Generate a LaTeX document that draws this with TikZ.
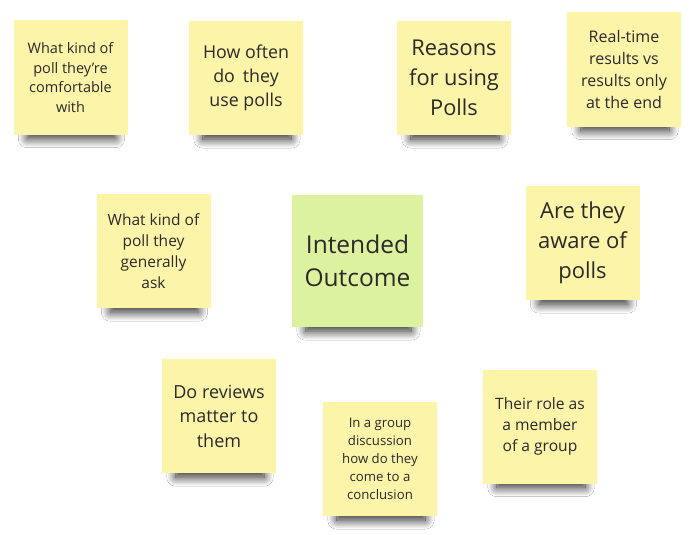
\documentclass[tikz,border=0pt]{standalone}
\usepackage{fontspec}
\setmainfont{Open Sans}
\usetikzlibrary{shadows.blur}
\pgfdeclarelayer{background}
\pgfsetlayers{background,main}
\definecolor{stickyyellow}{HTML}{FCF4A9}
\definecolor{stickygreen}{HTML}{DCF29E}
\definecolor{inkgray}{HTML}{2A2A2A}
\tikzset{
  sticky/.style={fill=stickyyellow, draw=none, inner sep=0pt,
    minimum width=114pt, minimum height=114pt, align=center,
    text=inkgray},
  goal/.style={sticky, fill=stickygreen, minimum width=131pt, minimum height=132pt},
  curlshadow/.style={blur shadow={shadow xshift=0pt, shadow yshift=0pt,
    shadow blur radius=9pt, shadow blur steps=18, shadow opacity=85}},
}
\begin{document}
\begin{tikzpicture}[x=1pt, y=-1pt]
  \useasboundingbox (0,0) rectangle (694,535);

  % top row
  \node[sticky, font=\fontsize{14.5}{19.7}\selectfont] (comfort) at (70.5,77.5)
    {What kind of\\poll they're\\comfortable\\with};
  \node[sticky, font=\fontsize{17.8}{24.2}\selectfont] (often) at (246,78)
    {How often\\do\hspace{0.45em}they\\use polls};
  \node[sticky, font=\fontsize{21.8}{29.7}\selectfont] (reasons) at (454,78)
    {Reasons\\for using\\Polls};
  \node[sticky, font=\fontsize{16}{22}\selectfont] (realtime) at (624,69.5)
    {Real-time\\results vs\\results only\\at the end};

  % middle row
  \node[sticky, font=\fontsize{15.5}{21}\selectfont] (generally) at (153.5,251)
    {What kind of\\poll they\\generally\\ask};
  \node[goal, font=\fontsize{24.5}{33.3}\selectfont] (outcome) at (357.5,261)
    {Intended\\Outcome};
  \node[sticky, font=\fontsize{22}{30}\selectfont] (aware) at (582.5,243)
    {Are they\\aware of\\polls};

  % bottom row
  \node[sticky, font=\fontsize{18}{24.5}\selectfont] (reviews) at (219,416)
    {Do reviews\\matter to\\them};
  \node[sticky, font=\fontsize{13.2}{17.9}\selectfont] (discussion) at (380,459)
    {In a group\\discussion\\how do they\\come to a\\conclusion};
  \node[sticky, font=\fontsize{15.6}{21.2}\selectfont] (role) at (540,426.5)
    {Their role as\\a member\\of a group};

  % white board, then curled-edge shadows under every note
  \begin{pgfonlayer}{background}
    \fill[white] (0,0) rectangle (694,535);
    \foreach \n in {comfort,often,reasons,realtime,generally,outcome,aware,reviews,discussion,role}
      \path[curlshadow] ([xshift=14pt,yshift=14pt]\n.south west)
        rectangle ([xshift=-12pt,yshift=-4pt]\n.south east);
  \end{pgfonlayer}
\end{tikzpicture}
\end{document}
